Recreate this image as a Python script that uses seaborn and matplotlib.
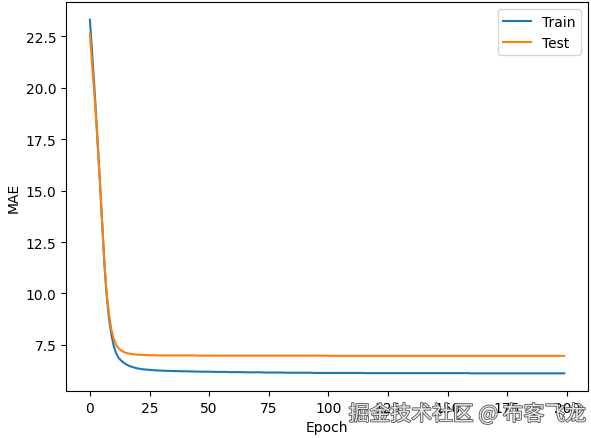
import numpy as np
import pandas as pd
import matplotlib
matplotlib.use('Agg')
import matplotlib.pyplot as plt
import matplotlib.patheffects as pe
import seaborn as sns

# MAE per epoch
train_mae = [
    23.30, 21.55, 19.80, 17.85, 15.85, 13.75, 11.60, 9.95, 8.80, 8.00,
    7.45, 7.10, 6.88, 6.75, 6.65, 6.57, 6.51, 6.46, 6.42, 6.39,
    6.36, 6.34, 6.32, 6.31, 6.30, 6.29, 6.28, 6.27, 6.26, 6.26,
    6.25, 6.25, 6.24, 6.24, 6.24, 6.23, 6.23, 6.23, 6.22, 6.22,
    6.22, 6.22, 6.21, 6.21, 6.21, 6.21, 6.20, 6.20, 6.20, 6.20,
    6.20, 6.20, 6.19, 6.19, 6.19, 6.19, 6.19, 6.19, 6.18, 6.18,
    6.18, 6.18, 6.18, 6.18, 6.18, 6.17, 6.17, 6.17, 6.17, 6.17,
    6.17, 6.17, 6.17, 6.16, 6.16, 6.16, 6.16, 6.16, 6.16, 6.16,
    6.16, 6.16, 6.15, 6.15, 6.15, 6.15, 6.15, 6.15, 6.15, 6.15,
    6.15, 6.15, 6.15, 6.15, 6.14, 6.14, 6.14, 6.14, 6.14, 6.14,
    6.14, 6.14, 6.14, 6.14, 6.14, 6.14, 6.14, 6.14, 6.14, 6.14,
    6.14, 6.14, 6.14, 6.14, 6.14, 6.13, 6.13, 6.13, 6.13, 6.13,
    6.13, 6.13, 6.13, 6.13, 6.13, 6.13, 6.13, 6.13, 6.13, 6.13,
    6.13, 6.13, 6.13, 6.13, 6.13, 6.13, 6.13, 6.13, 6.13, 6.13,
    6.13, 6.13, 6.13, 6.13, 6.13, 6.13, 6.13, 6.13, 6.13, 6.13,
    6.13, 6.13, 6.13, 6.13, 6.13, 6.13, 6.13, 6.13, 6.13, 6.13,
    6.12, 6.12, 6.12, 6.12, 6.12, 6.12, 6.12, 6.12, 6.12, 6.12,
    6.12, 6.12, 6.12, 6.12, 6.12, 6.12, 6.12, 6.12, 6.12, 6.12,
    6.12, 6.12, 6.12, 6.12, 6.12, 6.12, 6.12, 6.12, 6.12, 6.12,
    6.12, 6.12, 6.12, 6.12, 6.12, 6.12, 6.12, 6.12, 6.12, 6.12,
]
test_mae = [
    22.60, 21.00, 19.50, 17.75, 15.80, 13.75, 11.60, 10.05, 9.00, 8.25,
    7.80, 7.50, 7.34, 7.24, 7.17, 7.12, 7.09, 7.07, 7.05, 7.04,
    7.03, 7.02, 7.02, 7.01, 7.01, 7.00, 7.00, 7.00, 6.99, 6.99,
    6.99, 6.99, 6.99, 6.99, 6.99, 6.99, 6.99, 6.99, 6.99, 6.99,
    6.99, 6.99, 6.99, 6.99, 6.99, 6.98, 6.98, 6.98, 6.98, 6.98,
    6.98, 6.98, 6.98, 6.98, 6.98, 6.98, 6.98, 6.98, 6.98, 6.98,
    6.98, 6.98, 6.98, 6.98, 6.98, 6.98, 6.98, 6.98, 6.98, 6.98,
    6.98, 6.98, 6.98, 6.98, 6.98, 6.98, 6.98, 6.98, 6.98, 6.98,
    6.98, 6.98, 6.98, 6.98, 6.98, 6.98, 6.98, 6.98, 6.98, 6.98,
    6.98, 6.98, 6.98, 6.98, 6.98, 6.98, 6.98, 6.98, 6.98, 6.98,
    6.97, 6.97, 6.97, 6.97, 6.97, 6.97, 6.97, 6.97, 6.97, 6.97,
    6.97, 6.97, 6.97, 6.97, 6.97, 6.97, 6.97, 6.97, 6.97, 6.97,
    6.97, 6.97, 6.97, 6.97, 6.97, 6.97, 6.97, 6.97, 6.97, 6.97,
    6.97, 6.97, 6.97, 6.97, 6.97, 6.97, 6.97, 6.97, 6.97, 6.97,
    6.97, 6.97, 6.97, 6.97, 6.97, 6.97, 6.97, 6.97, 6.97, 6.97,
    6.97, 6.97, 6.97, 6.97, 6.97, 6.97, 6.97, 6.97, 6.97, 6.97,
    6.97, 6.97, 6.97, 6.97, 6.97, 6.97, 6.97, 6.97, 6.97, 6.97,
    6.97, 6.97, 6.97, 6.97, 6.97, 6.97, 6.97, 6.97, 6.97, 6.97,
    6.97, 6.97, 6.97, 6.97, 6.97, 6.97, 6.97, 6.97, 6.97, 6.97,
    6.97, 6.97, 6.97, 6.97, 6.97, 6.97, 6.97, 6.97, 6.97, 6.97,
]
epochs = np.arange(len(train_mae))

df = pd.DataFrame({'Epoch': epochs, 'Train': train_mae, 'Test': test_mae})

plt.rcParams['font.size'] = 10

fig, ax = plt.subplots(figsize=(5.91, 4.39), dpi=100)
fig.subplots_adjust(left=0.112, right=0.995, bottom=0.107, top=0.993)

sns.lineplot(data=df, x='Epoch', y='Train', label='Train', color='#1f77b4', linewidth=1.5, ax=ax)
sns.lineplot(data=df, x='Epoch', y='Test', label='Test', color='#ff7f0e', linewidth=1.5, ax=ax)

ax.set_xlabel('Epoch')
ax.set_ylabel('MAE')
ax.set_xticks([0, 25, 50, 75, 100, 125, 150, 175, 200])
ax.legend(loc='upper right')

# watermark from the source image
fig.text(0.59, 0.04, '掘金技术社区 @ 布客飞龙', fontsize=15,
         family=['Noto Sans CJK SC', 'DejaVu Sans'], color='#e8e8e8',
         path_effects=[pe.withStroke(linewidth=1.2, foreground='#555555')])

fig.savefig('out.png', dpi=100)
